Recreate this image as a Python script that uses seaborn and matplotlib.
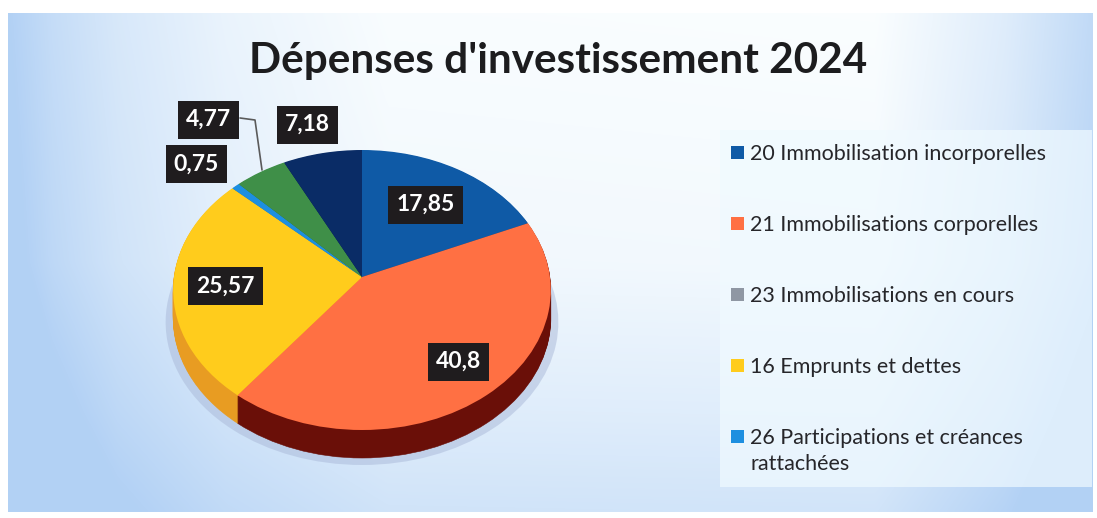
import numpy as np
import matplotlib
matplotlib.use("Agg")
import matplotlib.pyplot as plt
import seaborn as sns
from matplotlib.patches import Patch, PathPatch, Rectangle
from matplotlib.path import Path

categories = ["20 Immobilisation incorporelles", "21 Immobilisations corporelles",
              "16 Emprunts et dettes", "26 Participations et créances", "autre 1", "autre 2"]
values = [17.85, 40.8, 25.57, 0.75, 4.77, 7.18]
slice_colors = ["#0f5aa6", "#ff7043", "#ffcc1c", "#1d8fe0", "#3f8f48", "#0a2c66"]
side_colors = ["#0a3c70", "#6a0f08", "#e89c22", "#1d6fb0", "#2c6a34", "#061c44"]
legend_labels = ["20 Immobilisation incorporelles", "21 Immobilisations corporelles",
                 "23 Immobilisations en cours", "16 Emprunts et dettes",
                 "26 Participations et créances"]
legend_colors = ["#0f5aa6", "#ff7043", "#8f97a3", "#ffcc1c", "#1d8fe0"]
title = "Dépenses d'investissement 2024"

W, H = 1097, 518
sns.set_theme(style="white")
plt.rcParams["font.family"] = ["Lato", "DejaVu Sans"]
palette = sns.color_palette(slice_colors)
side_palette = sns.color_palette(side_colors)

fig = plt.figure(figsize=(W / 100, H / 100), dpi=100, facecolor="white")


def px_axes(x0, y0, x1, y1, zorder):
    return fig.add_axes([x0 / W, 1 - y1 / H, (x1 - x0) / W, (y1 - y0) / H], zorder=zorder)


# fond du scan, degrade bleu clair vers le blanc
bg = px_axes(8, 13, 1093, 512, 0)
xx, yy = np.meshgrid(np.linspace(0, 1, 400), np.linspace(0, 1, 200))
edge = np.interp(xx, [0, 0.04, 0.1, 0.2, 0.35, 0.8, 0.92, 1], [1, 0.75, 0.5, 0.25, 0.05, 0.03, 0.4, 0.8])
low = np.interp(yy, [0, 0.5, 0.8, 1], [0, 0.1, 0.35, 0.55])
amount = np.clip(edge + low, 0, 1)[..., None]
img = np.array([0.99, 1, 1]) * (1 - amount) + np.array([0.70, 0.82, 0.96]) * amount
bg.imshow(img, aspect="auto", interpolation="bilinear")
bg.axis("off")

# camembert: ellipse centre (362, 290), rx 188, ry 140
pie_ax = px_axes(150, 130, 590, 480, 1)
depth = 0.2
persp = 0.093  # le centre du disque remonte de 13 px, comme sur l'effet 3D d'origine


def warp(verts):
    d = 1 + persp * verts[:, 1]
    return np.column_stack([verts[:, 0] / d, (verts[:, 1] + persp) / d])


wedges, _ = pie_ax.pie(values, colors=palette, startangle=90, counterclock=False,
                       wedgeprops={"linewidth": 0})
paths = [Path(warp(w.get_path().vertices), w.get_path().codes) for w in wedges]
for w in wedges:
    w.remove()

# ombre, puis flanc, puis dessus
for p in paths:
    shadow = Path(p.vertices * [1.04, 1.02] + [0, -depth - 0.03], p.codes)
    pie_ax.add_patch(PathPatch(shadow, facecolor="#a9b8d8", alpha=0.5, linewidth=0))
for i in range(28):
    off = -depth * (1 - i / 28)
    for p, c in zip(paths, side_palette):
        pie_ax.add_patch(PathPatch(Path(p.vertices + [0, off], p.codes), facecolor=c, linewidth=0.4, edgecolor=c))
for p, c in zip(paths, palette):
    pie_ax.add_patch(PathPatch(p, facecolor=c, linewidth=0))

pie_ax.set_aspect("auto")
pie_ax.set_xlim((150 - 362) / 188, (590 - 362) / 188)
pie_ax.set_ylim((290 - 480) / 140, (290 - 130) / 140)
pie_ax.axis("off")

# titre, etiquettes, legende en coordonnees pixel
ax = px_axes(0, 0, W, H, 2)
ax.set_xlim(0, W)
ax.set_ylim(H, 0)
ax.axis("off")
ax.patch.set_alpha(0)

ax.text(558, 61, title, ha="center", va="center", fontsize=30.4, fontweight="bold", color="#1c1c1e")

ax.add_patch(Rectangle((720, 130), 372, 357, facecolor="#f0faff", alpha=0.7, linewidth=0))

ax.plot([240, 255, 262], [118, 120, 170], color="#5a5a5a", linewidth=1.2)

label_centers = [(425.5, 204.5), (458.5, 361.5), (225.5, 286), (196, 164), (208.5, 119.5), (307.5, 124.5)]
for i, v in enumerate(values):
    txt = str(v).replace(".", ",")
    cx, cy = label_centers[i]
    w = 13.5 * len(txt) + 7
    ax.add_patch(Rectangle((cx - w / 2, cy - 19), w, 38, facecolor="#1f1c1e", linewidth=0))
    ax.text(cx, cy, txt, ha="center", va="center", color="white", fontsize=16.5, fontweight="bold")

handles = [Patch(facecolor=c, edgecolor="none") for c in legend_colors]
leg = ax.legend(handles, legend_labels, loc="upper left", bbox_to_anchor=(731 / W, 1 - 144 / H),
                bbox_transform=fig.transFigure, frameon=False, fontsize=15.5,
                handlelength=0.6, handleheight=0.6, handletextpad=0.28,
                labelspacing=2.37, borderpad=0, borderaxespad=0, labelcolor="#26262a")
ax.text(750, 464, "rattachées", ha="left", va="center", fontsize=15.5, color="#26262a")

fig.savefig("out.png", dpi=100)
